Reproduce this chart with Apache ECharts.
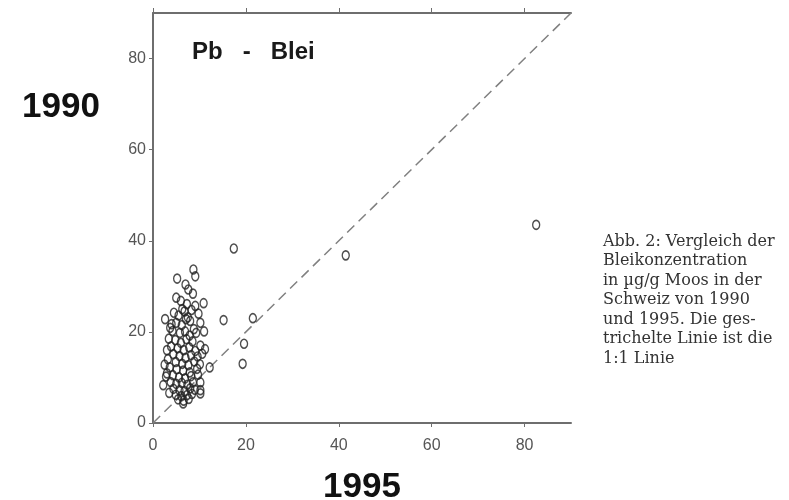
<!DOCTYPE html>
<html>
<head>
<meta charset="utf-8">
<script src="https://cdn.jsdelivr.net/npm/echarts@6/dist/echarts.min.js"></script>
<style>
  html, body { margin: 0; padding: 0; background: #fff; }
  #main { width: 789px; height: 500px; }
</style>
</head>
<body>
<div id="main"></div>
<script>
// Pb - Blei: 1995 (x) gegen 1990 (y), Werte in µg/g
var blei1995 = [
  82.5, 41.5, 17.4, 21.5, 15.2, 19.6, 19.3, 12.2, 10.2,
  5.2, 8.7, 9.1, 7.0, 7.6, 9.1, 10.9, 6.3, 2.6, 3.7, 8.0, 10.2, 10.2, 10.6, 10.2, 10.2, 6.5, 2.2, 3.0,
  4.5, 5.5, 6.8, 7.5, 8.3, 5.0, 6.2, 7.1, 8.8, 4.2, 5.8, 6.9, 7.9, 9.3, 3.4, 4.8, 6.0, 7.2, 8.5,
  3.9, 5.3, 6.6, 7.8, 9.1, 4.4, 5.7, 7.0, 8.2, 3.2, 4.9, 6.3, 7.6, 8.9, 3.6, 5.1, 6.5, 7.9, 9.5,
  2.8, 4.3, 5.6, 6.9, 8.2, 9.7, 3.8, 5.0, 6.2, 7.4, 8.6, 4.4, 5.7, 6.8, 8.0, 9.0, 3.5, 4.9, 6.1,
  7.3, 8.4, 5.4, 6.6, 7.7, 9.6, 10.1, 11.2, 11.0, 9.8, 3.0, 2.5, 4.0, 6.0, 7.3, 5.0, 8.6
];
var blei1990 = [
  43.5, 36.8, 38.3, 23.0, 22.6, 17.4, 13.0, 12.2, 7.2,
  31.7, 33.7, 32.2, 30.4, 29.3, 25.7, 26.3, 25.0, 22.8, 20.9, 22.4, 22.0, 17.0, 15.2, 8.9, 6.5, 4.3, 8.3, 10.9,
  24.2, 23.6, 24.5, 23.2, 24.8, 22.0, 21.5, 22.8, 20.6, 20.2, 19.8, 20.1, 19.2, 19.8, 18.5, 18.2, 17.6, 18.4, 17.9,
  16.8, 16.4, 16.0, 16.6, 15.8, 15.1, 14.7, 14.3, 14.9, 14.0, 13.4, 13.0, 12.7, 13.5, 12.2, 11.8, 11.5, 11.1, 11.9,
  10.2, 10.5, 10.0, 9.8, 10.3, 10.6, 9.0, 8.6, 8.8, 8.4, 8.9, 7.5, 7.2, 7.0, 7.6, 7.3, 6.6, 6.2, 5.9,
  6.1, 6.4, 5.2, 4.9, 5.3, 14.6, 12.9, 16.2, 20.1, 24.0, 16.0, 12.8, 21.7, 26.8, 26.1, 27.5, 28.4
];
var tickValues = [0, 20, 40, 60, 80];
var axisMax = 90;
var captionLines = [
  'Abb. 2: Vergleich der',
  'Bleikonzentration',
  'in µg/g Moos in der',
  'Schweiz von 1990',
  'und 1995. Die ges-',
  'trichelte Linie ist die',
  '1:1 Linie'
];

var points = blei1995.map(function (x, i) { return [x, blei1990[i]]; });

var chart = echarts.init(document.getElementById('main'));

var axisLineStyle = { color: '#6e6e6e', width: 2 };
var labelStyle = { color: '#555', fontSize: 16, fontFamily: 'Liberation Sans, Arial, sans-serif' };

var option = {
  animation: false,
  backgroundColor: '#fff',
  title: [
    {
      text: 'Pb   -   Blei', left: 192, top: 40, padding: 0,
      textStyle: { fontSize: 24, fontWeight: 'bold', color: '#1a1a1a', fontFamily: 'Liberation Sans, Arial, sans-serif' }
    },
    {
      text: '1990', left: 22, top: 90, padding: 0,
      textStyle: { fontSize: 35, fontWeight: 'bold', color: '#111', fontFamily: 'Liberation Sans, Arial, sans-serif' }
    },
    {
      text: '1995', left: 323, top: 470, padding: 0,
      textStyle: { fontSize: 35, fontWeight: 'bold', color: '#111', fontFamily: 'Liberation Sans, Arial, sans-serif' }
    },
    {
      text: captionLines.join('\n'), left: 603, top: 232, padding: 0,
      textStyle: { fontSize: 16, fontWeight: 'normal', lineHeight: 19.5, color: '#333', fontFamily: 'DejaVu Serif, serif' }
    }
  ],
  grid: { left: 153, top: 13, width: 418, height: 410, containLabel: false },
  xAxis: [
    {
      type: 'value', position: 'bottom', min: 0, max: axisMax, interval: 20,
      axisLine: { show: true, lineStyle: axisLineStyle },
      axisTick: { show: true, length: 4, customValues: tickValues, lineStyle: { color: '#6e6e6e' } },
      axisLabel: { customValues: tickValues, margin: 15, ...labelStyle },
      splitLine: { show: false }
    },
    {
      type: 'value', position: 'top', min: 0, max: axisMax, interval: 20,
      axisLine: { show: true, lineStyle: axisLineStyle },
      axisTick: { show: true, length: 5, customValues: tickValues, lineStyle: { color: '#6e6e6e' } },
      axisLabel: { show: false },
      splitLine: { show: false }
    }
  ],
  yAxis: {
    type: 'value', min: 0, max: axisMax, interval: 20,
    axisLine: { show: true, lineStyle: axisLineStyle },
    axisTick: { show: true, length: 4, customValues: tickValues, lineStyle: { color: '#6e6e6e' } },
    axisLabel: { customValues: tickValues, margin: 7, ...labelStyle },
    splitLine: { show: false }
  },
  series: [
    {
      type: 'line',
      data: [[0, 0], [axisMax, axisMax]],
      symbol: 'none',
      silent: true,
      lineStyle: { color: '#808080', width: 1.5, type: [10, 6] },
      z: 1
    },
    {
      type: 'scatter',
      data: points,
      symbol: 'circle',
      symbolSize: [7, 9],
      itemStyle: { color: 'rgba(255,255,255,0)', borderColor: '#222', borderWidth: 1.5 },
      z: 2
    }
  ]
};

chart.setOption(option);
</script>
</body>
</html>
